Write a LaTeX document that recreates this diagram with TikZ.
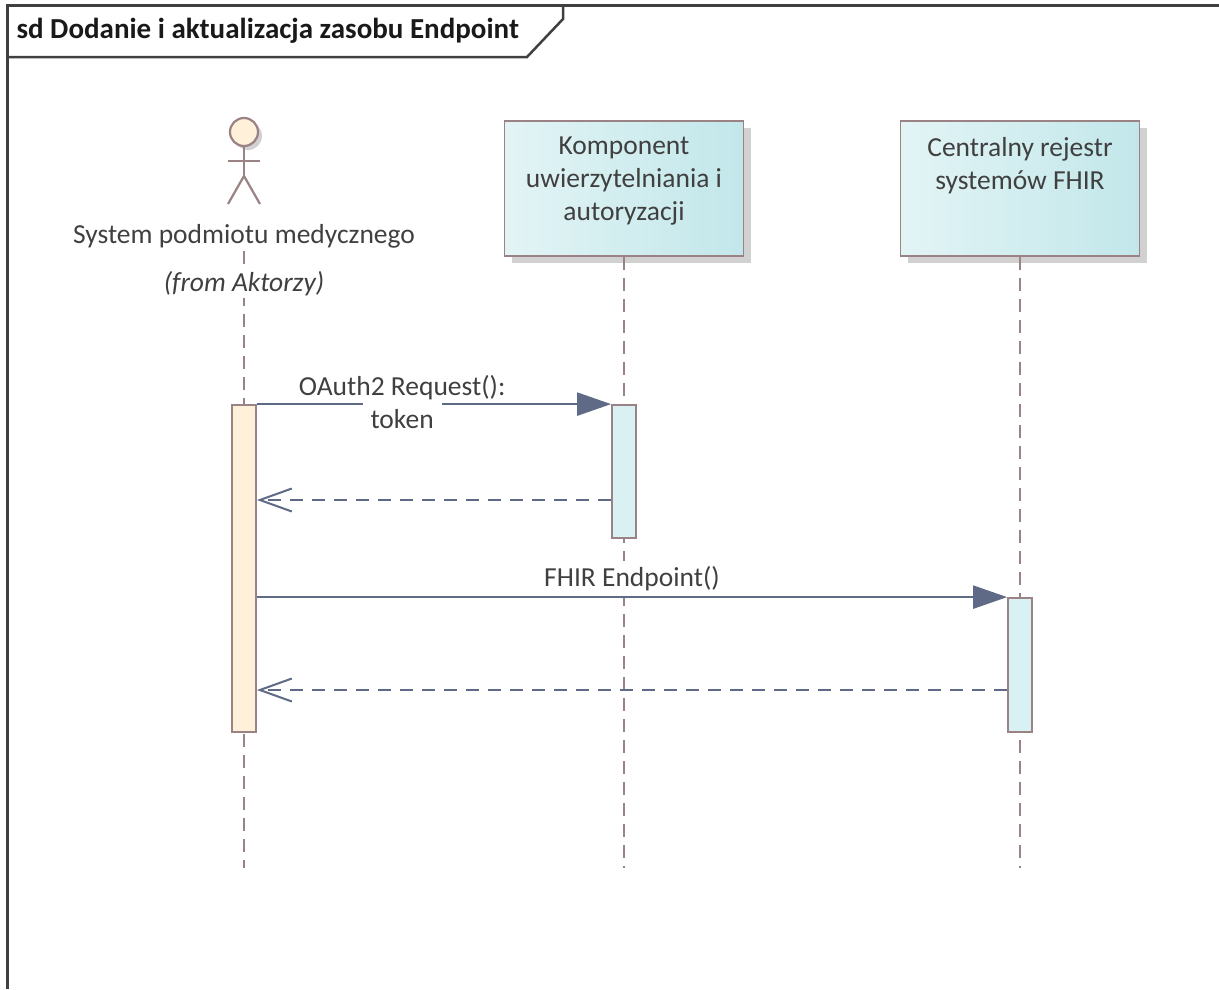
\documentclass[tikz,border=0pt]{standalone}
\usepackage{fontspec}
\setmainfont{Carlito}
\usetikzlibrary{positioning,arrows.meta,shadows}
\definecolor{edge}{HTML}{9A8285}
\definecolor{msg}{HTML}{5F6A86}
\definecolor{partl}{HTML}{E3F4F5}
\definecolor{partr}{HTML}{C2E7EA}
\definecolor{barfill}{HTML}{D9F1F2}
\definecolor{actfill}{HTML}{FFF0DA}
\definecolor{txt}{HTML}{404040}
\tikzset{
  every node/.style={font=\fontsize{27.5}{33}\selectfont, text=txt},
  frame/.style={draw=black!75, line width=3pt},
  part/.style={draw=edge, line width=1.8pt, left color=partl, right color=partr,
    minimum width=239pt, minimum height=135pt,
    drop shadow={shadow xshift=7pt, shadow yshift=-7pt, fill=black!18, opacity=1}},
  parttext/.style={align=center, inner sep=0pt},
  actbar/.style={draw=edge, line width=1.8pt, fill=actfill, minimum width=24pt},
  bar/.style={draw=edge, line width=1.8pt, fill=barfill, minimum width=24pt},
  actorline/.style={draw=edge, line width=2.2pt},
  lifeline/.style={draw=edge, line width=2pt, dash pattern=on 13pt off 8pt},
  call/.style={draw=msg, line width=2.4pt, -{Triangle[length=34pt,width=23pt]}},
  reply/.style={draw=msg, line width=2.4pt, dash pattern=on 13pt off 9pt,
    -{Straight Barb[length=32pt,width=23pt,line width=2pt]}}
}
\begin{document}
\begin{tikzpicture}[x=1pt, y=-1pt]
\useasboundingbox (0,0) rectangle (1219,989);
% frame and tab
\draw[frame] (7,989) -- (7,5) -- (1219,5);
\draw[frame, line width=2.5pt] (7,57) -- (527,57) -- (563,19) -- (563,5);
\node[anchor=west, text=black!90, font=\fontsize{29}{35}\selectfont\bfseries] (title) at (13,31) {sd Dodanie i aktualizacja zasobu Endpoint};
\coordinate (bottom) at (0,868);
\coordinate (ret1) at (0,500);
\coordinate (ret2) at (0,690);
% actor
\node[draw=edge, line width=2.2pt, fill=actfill, circle, minimum size=28pt, inner sep=0pt,
  drop shadow={shadow xshift=4pt, shadow yshift=-4pt, fill=black!18, opacity=1}] (head) at (244,132) {};
\draw[actorline] (head.south) -- (244,176) coordinate (hip);
\draw[actorline] (228,161) -- (260,161);
\draw[actorline] (228,204) -- (hip) -- (260,204);
\node (actor) at (244,236) {System podmiotu medycznego};
\draw[lifeline] (actor.south) -- (actor.south |- bottom);
\node[fill=white, inner sep=2pt, font=\fontsize{27.5}{33}\selectfont\itshape] (from) at (244,284) {(from Aktorzy)};
% participants
\node[part] (auth) at (624,188.5) {};
\node[parttext, below=17pt of auth.north] (authname) {Komponent\\uwierzytelniania i\\autoryzacji};
\node[part] (reg) at (1020,188.5) {};
\node[parttext, below=17pt of reg.north] (regname) {Centralny rejestr\\systemów FHIR};
\draw[lifeline] (auth.south) -- (auth.south |- bottom);
\draw[lifeline] (reg.south) -- (reg.south |- bottom);
% activations
\node[actbar, minimum height=327pt] (actbar) at (244,568.5) {};
\node[bar, minimum height=133pt] (authbar) at (624,471.5) {};
\node[bar, minimum height=134pt] (regbar) at (1020,665) {};
% messages
\path[call] (actbar.north east) -- node[above, pos=.41, inner sep=3pt] (oauth) {OAuth2 Request():}
  node[anchor=north, pos=.41, fill=white, inner xsep=8pt, inner ysep=8pt, yshift=4pt] (token) {token} (authbar.north west);
\path[reply] (authbar.west |- ret1) -- (actbar.east |- ret1);
\path[call] (actbar.east |- regbar.north) -- node[above, fill=white, inner sep=5pt] (fhir) {FHIR Endpoint()} (regbar.north west);
\path[reply] (regbar.west |- ret2) -- (actbar.east |- ret2);
\end{tikzpicture}
\end{document}
